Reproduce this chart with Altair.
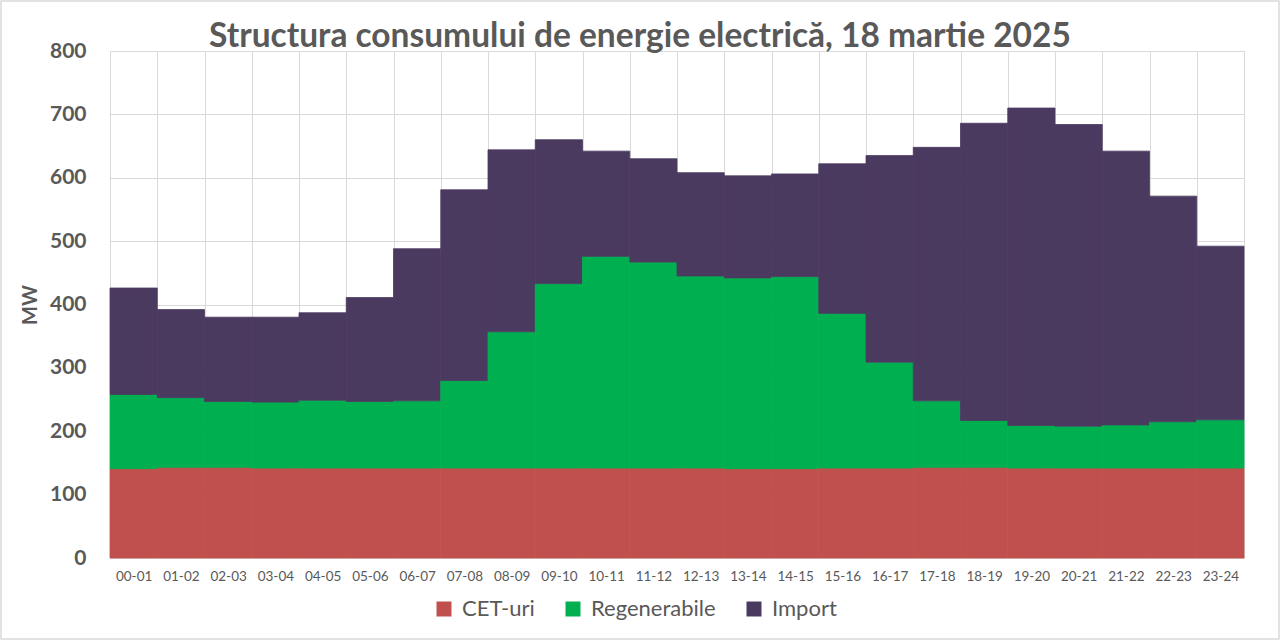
import altair as alt
import pandas as pd

# Hourly intervals of 18 March 2025
slots = ["00-01", "01-02", "02-03", "03-04", "04-05", "05-06", "06-07", "07-08",
         "08-09", "09-10", "10-11", "11-12", "12-13", "13-14", "14-15", "15-16",
         "16-17", "17-18", "18-19", "19-20", "20-21", "21-22", "22-23", "23-24"]

# Consumption by source, MW
cet = [141, 143, 143, 142, 142, 142, 142, 142, 142, 142, 142, 142,
       142, 141, 141, 142, 142, 143, 143, 142, 142, 142, 142, 142]
regen = [117, 110, 104, 104, 107, 105, 106, 138, 215, 291, 334, 325,
         303, 301, 303, 244, 167, 105, 74, 67, 66, 68, 73, 76]
imp = [168, 139, 133, 134, 138, 164, 240, 301, 287, 227, 166, 163,
       163, 161, 162, 236, 326, 400, 469, 501, 476, 432, 356, 274]

sources = ["CET-uri", "Regenerabile", "Import"]
colors = ["#C0504D", "#00B050", "#4B3A60"]
title_text = "Structura consumului de energie electrică, 18 martie 2025"

rows = []
for i, s in enumerate(slots):
    for k, (name, vals) in enumerate(zip(sources, [cet, regen, imp])):
        rows.append({"slot": s, "source": name, "mw": vals[i], "ord": k})
df = pd.DataFrame(rows)

FONT = "Lato"
GREY = "#595959"
W, H = 1134, 507
PAD_L, PAD_T = 110, 51

color_scale = alt.Scale(domain=sources, range=colors)

bars = alt.Chart(df).mark_bar(strokeWidth=0.8).encode(
    x=alt.X("slot:N", sort=slots,
            scale=alt.Scale(paddingInner=0, paddingOuter=0),
            axis=alt.Axis(title=None, labelAngle=0, labelFont=FONT, labelFontSize=13.5,
                          labelColor=GREY, labelPadding=11, ticks=False,
                          grid=True, gridColor="#D9D9D9", tickBand="extent",
                          domain=True, domainColor="#D9D9D9")),
    y=alt.Y("mw:Q", stack="zero",
            scale=alt.Scale(domain=[0, 800]),
            axis=alt.Axis(title="MW", values=list(range(0, 801, 100)),
                          labelFont=FONT, labelFontSize=21, labelFontWeight="bold",
                          labelColor=GREY, labelPadding=24, ticks=False, domain=False,
                          gridColor="#D9D9D9",
                          titleFont=FONT, titleFontSize=20, titleFontWeight="bold",
                          titleColor=GREY, titlePadding=9)),
    color=alt.Color("source:N", scale=color_scale,
                    legend=alt.Legend(title=None, orient="none", direction="horizontal",
                                      legendX=323, legendY=547,
                                      symbolType="square", symbolSize=225,
                                      symbolStrokeWidth=0, labelFont=FONT,
                                      labelFontSize=22, labelColor=GREY,
                                      labelOffset=7, columnPadding=27, labelLimit=300)),
    stroke=alt.Color("source:N", scale=color_scale, legend=None),
    order=alt.Order("ord:Q", sort="ascending"),
)

# chart heading, centred on the figure
heading = alt.Chart(alt.Data(values=[{"t": title_text}])).mark_text(
    font=FONT, fontSize=33.5, fontWeight="bold", color=GREY,
    align="center", baseline="alphabetic"
).encode(
    text="t:N",
    x=alt.value(640 - PAD_L),
    y=alt.value(47 - PAD_T),
)

# thin frame around the whole figure
frame = alt.Chart(alt.Data(values=[{}])).mark_rect(
    filled=False, stroke="#D9D9D9", strokeWidth=1.5
).encode(
    x=alt.value(-PAD_L + 1), x2=alt.value(1280 - PAD_L - 1),
    y=alt.value(-PAD_T + 1), y2=alt.value(640 - PAD_T - 1),
)

chart = alt.layer(bars, heading, frame).properties(
    width=W, height=H,
    autosize=alt.AutoSizeParams(type="none"),
    padding={"left": PAD_L, "top": PAD_T, "right": 1280 - PAD_L - W, "bottom": 640 - PAD_T - H},
).configure_view(stroke=None).configure(background="white")

chart.save("out.html", embed_options={"renderer": "svg", "actions": False})
